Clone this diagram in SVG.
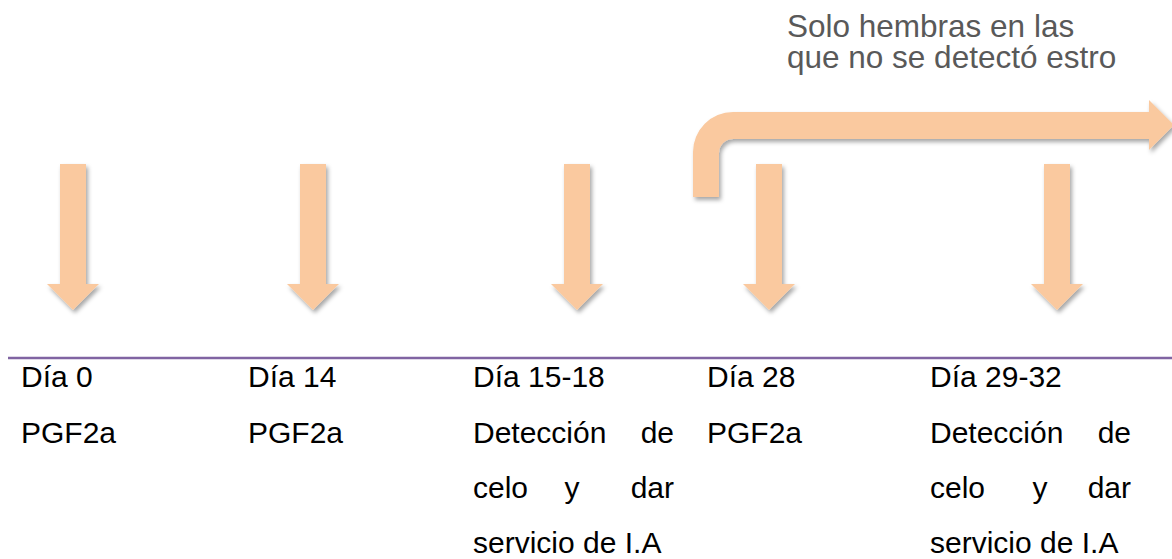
<svg xmlns="http://www.w3.org/2000/svg" width="1172" height="559" viewBox="0 0 1172 559">
<style>
.arr{fill:#fac99f;filter:url(#sh)}
.t{font-family:"Liberation Sans",Arial,sans-serif;font-size:30px;fill:#000}
.n{font-family:"Liberation Sans",Arial,sans-serif;font-size:31.5px;fill:#595959}
</style>
<defs>
<filter id="sh" x="-20%" y="-20%" width="150%" height="150%">
<feDropShadow dx="2" dy="3" stdDeviation="2.2" flood-color="#000" flood-opacity="0.35"/>
</filter>
<path id="down" d="M-13,164 H13 V284 H26 L0,310 L-26,284 H-13 Z"/>
</defs>
<rect width="1172" height="559" fill="#fff"/>
<g id="connectors">
<use href="#down" class="arr" x="73"/>
<use href="#down" class="arr" x="313"/>
<use href="#down" class="arr" x="577"/>
<path class="arr" d="M693,197 L693,152 A40,40 0 0 1 733,112 L1149,112 L1149,100 L1174,125 L1149,150 L1149,139 L733,139 A14,14 0 0 0 719,153 L719,197 Z"/>
<use href="#down" class="arr" x="769"/>
<use href="#down" class="arr" x="1057"/>
</g>
<line x1="8" y1="358" x2="1172" y2="358" stroke="#8064a2" stroke-width="2.5"/>
<g id="note"><text class="n" x="787" y="37">Solo hembras en las</text><text class="n" x="787" y="68">que no se detectó estro</text></g>
<g id="d0"><text class="t" x="21" y="387">Día 0</text><text class="t" x="21" y="443">PGF2a</text></g>
<g id="d14"><text class="t" x="248" y="387">Día 14</text><text class="t" x="248" y="443">PGF2a</text></g>
<g id="d15"><text class="t" x="473" y="387">Día 15-18</text><text class="t" x="473" y="443">Detección</text><text class="t" x="674" y="443" text-anchor="end">de</text><text class="t" x="473" y="498">celo</text><text class="t" x="572" y="498" text-anchor="middle">y</text><text class="t" x="674" y="498" text-anchor="end">dar</text><text class="t" x="473" y="553">servicio de I.A</text></g>
<g id="d28"><text class="t" x="707" y="387">Día 28</text><text class="t" x="707" y="443">PGF2a</text></g>
<g id="d29"><text class="t" x="930" y="387">Día 29-32</text><text class="t" x="930" y="443">Detección</text><text class="t" x="1131" y="443" text-anchor="end">de</text><text class="t" x="930" y="498">celo</text><text class="t" x="1040" y="498" text-anchor="middle">y</text><text class="t" x="1131" y="498" text-anchor="end">dar</text><text class="t" x="930" y="553">servicio de I.A</text></g>
</svg>
